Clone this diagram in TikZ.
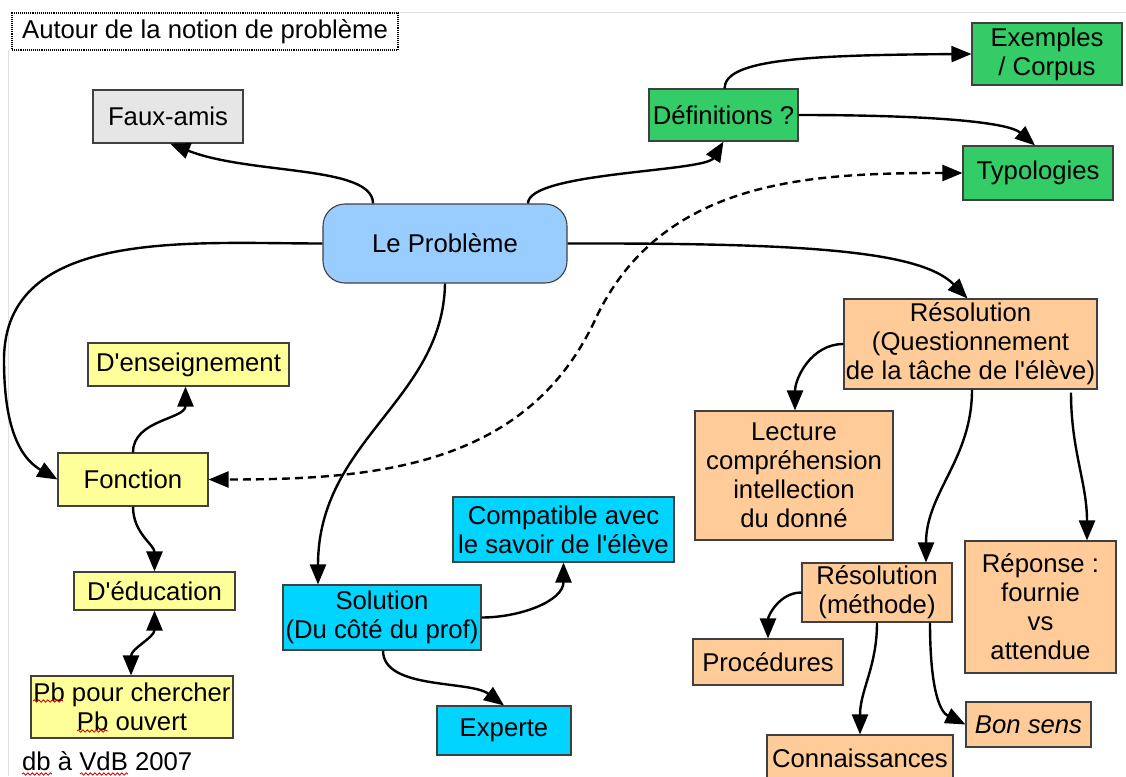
\documentclass[tikz,border=0pt]{standalone}
\usepackage{fontspec}
\setmainfont{Liberation Sans}[Ligatures=TeXOff]
\usetikzlibrary{arrows.meta,decorations.pathmorphing}
\definecolor{cgray}{HTML}{E6E6E6}
\definecolor{cblue}{HTML}{99CCFF}
\definecolor{cgreen}{HTML}{33CC66}
\definecolor{corange}{HTML}{FFCC99}
\definecolor{cyellow}{HTML}{FFFF99}
\definecolor{ccyan}{HTML}{00D4FF}
\tikzset{
  box/.style={draw=black!75, line width=1.1pt, inner sep=0pt, align=center},
  conn/.style={line width=2.4pt, ->},
  dconn/.style={line width=2.4pt, <->},
  dashconn/.style={line width=2.4pt, <->, dash pattern=on 8pt off 5pt},
  squig/.style={red!85!black, line width=0.8pt, decorate, decoration={snake, amplitude=1.2pt, segment length=4.5pt}},
}
\begin{document}
\begin{tikzpicture}[x=1pt, y=1pt, font=\fontsize{25.7}{29}\selectfont,
  >={Triangle[length=20pt,width=16pt]}]
\useasboundingbox (0,0) rectangle (1126,-776);
\fill[white] (0,0) rectangle (1126,-776);
\draw[black!12, line width=0.8pt] (8,-50) -- (8,-776);
\draw[black!12, line width=0.8pt] (400,-12) -- (1126,-12);

% title
\node[box, draw=black, densely dotted, line width=1.4pt, minimum width=386, minimum height=37] (title) at (205,-31.5) {Autour de la notion de probl\`eme};

% nodes
\node[box, fill=cgray, minimum width=150, minimum height=53] (faux) at (168,-116.5) {Faux-amis};
\node[box, fill=cblue, rounded corners=22pt, minimum width=244, minimum height=79] (prob) at (445,-243.5) {Le Probl\`eme};
\node[box, fill=cgreen, minimum width=149, minimum height=52] (def) at (723.5,-115) {D\'efinitions ?};
\node[box, fill=cgreen, minimum width=150, minimum height=62] (ex) at (1047,-54) {Exemples\\/ Corpus};
\node[box, fill=cgreen, minimum width=150, minimum height=54] (typ) at (1038,-173) {Typologies};

\node[box, fill=corange, minimum width=253, minimum height=90] (res) at (970.5,-344) {R\'esolution\\(Questionnement\\de la t\^ache de l'\'el\`eve)};
\node[box, fill=corange, minimum width=198, minimum height=129] (lec) at (794,-475.5) {Lecture\\compr\'ehension\\intellection\\du donn\'e};
\node[box, fill=corange, minimum width=150, minimum height=59] (meth) at (877,-592.5) {R\'esolution\\(m\'ethode)};
\node[box, fill=corange, minimum width=151, minimum height=132] (rep) at (1040.5,-607) {R\'eponse :\\fournie\\vs\\attendue};
\node[box, fill=corange, minimum width=150, minimum height=46] (proc) at (768,-662) {Proc\'edures};
\node[box, fill=corange, minimum width=186, minimum height=46] (conn) at (860,-758) {Connaissances};
\node[box, fill=corange, minimum width=125, minimum height=45] (bon) at (1028.5,-724.5) {\itshape Bon sens};

\node[box, fill=cyellow, minimum width=201, minimum height=43] (ens) at (188.5,-364.5) {D'enseignement};
\node[box, fill=cyellow, minimum width=150, minimum height=53] (fon) at (133,-479.5) {Fonction};
\node[box, fill=cyellow, minimum width=161, minimum height=38] (edu) at (154.5,-591) {D'\'education};
\node[box, fill=cyellow, minimum width=202, minimum height=62] (pb) at (132,-707) {Pb pour chercher\\Pb ouvert};

\node[box, fill=ccyan, minimum width=198, minimum height=65] (sol) at (382,-617.5) {Solution\\(Du c\^ot\'e du prof)};
\node[box, fill=ccyan, minimum width=221, minimum height=65] (comp) at (563.5,-529.5) {Compatible avec\\le savoir de l'\'el\`eve};
\node[box, fill=ccyan, minimum width=134, minimum height=49] (exp) at (504,-730.5) {Experte};

\node[anchor=west, inner sep=0pt] (db) at (22,-761) {db \`a VdB 2007};

% spell-check marks
\draw[squig] (33,-701) -- (63,-701);
\draw[squig] (77,-731) -- (108,-731);
\draw[squig] (22,-774) -- (52,-774);
\draw[squig] (80,-774) -- (128,-774);

% connectors
\draw[conn] ([xshift=-72]prob.north) .. controls (373,-165) and (250,-175) .. ([xshift=2]faux.south);
\draw[conn] ([xshift=83]prob.north) .. controls (528,-172) and (705,-172) .. (def.south);
\draw[conn] ([xshift=1]def.north) .. controls (725,-60) and (800,-55) .. (ex.west);
\draw[conn] (def.east) .. controls (930,-115) and (1008,-122) .. ([xshift=-3]typ.north);
\draw[conn] (prob.east) .. controls (800,-243) and (920,-250) .. ([xshift=-3]res.north);
\draw[conn] (prob.west) to[out=180,in=90] (4,-360) to[out=-90,in=150] (fon.west);
\draw[conn] (prob.south) .. controls (443,-400) and (318,-440) .. ([xshift=-64]sol.north);
\draw[dashconn] (typ.west) to[out=180,in=65] (595,-320) to[out=-115,in=0] (fon.east);

\draw[conn] (fon.north) to[out=90,in=-90] ([xshift=-3]ens.south);
\draw[conn] (fon.south) to[out=-90,in=90] (edu.north);
\draw[dconn] (edu.south) to[out=-90,in=90] ([xshift=-1]pb.north);

\draw[conn] (sol.east) to[out=0,in=-90] (comp.south);
\draw[conn] ([xshift=1]sol.south) .. controls (383,-690) and (470,-680) .. (exp.north);

\draw[conn] (res.west) to[out=180,in=90] ([xshift=1]lec.north);
\draw[conn] ([xshift=1.5]res.south) to[out=-90,in=90] ([xshift=49]meth.north);
\draw[conn] ([xshift=100.5,yshift=-3]res.south) to[out=-90,in=90] ([xshift=46.5]rep.north);

\draw[conn] (meth.west) to[out=180,in=90] (proc.north);
\draw[conn] (meth.south) to[out=-90,in=90] (conn.north);
\draw[conn] ([xshift=53]meth.south) .. controls (930,-690) and (940,-712) .. (bon.west);
\end{tikzpicture}
\end{document}
